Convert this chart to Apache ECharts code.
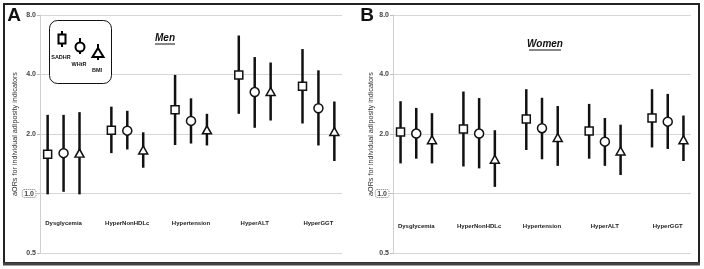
<!DOCTYPE html>
<html>
<head>
<meta charset="utf-8">
<script src="https://cdn.jsdelivr.net/npm/echarts@6/dist/echarts.min.js"></script>
<style>
  html, body { margin: 0; background: #fff; }
  #chart { width: 704px; height: 269px; }
</style>
</head>
<body>
<div id="chart"></div>
<script>
const categories = ['Dysglycemia', 'HyperNonHDLc', 'Hypertension', 'HyperALT', 'HyperGGT'];
const indicators = ['SADHR', 'WHtR', 'BMI'];
const yTicks = [0.5, 1, 2, 4, 8];

// [aOR, lower CI, upper CI] per category
const menSADHR = [[1.58, 0.99, 2.5], [2.09, 1.6, 2.75], [2.65, 1.76, 3.98], [3.98, 2.53, 6.3], [3.49, 2.26, 5.38]];
const menWHtR = [[1.6, 1.02, 2.5], [2.08, 1.67, 2.62], [2.33, 1.79, 3.03], [3.26, 2.15, 4.9], [2.7, 1.75, 4.2]];
const menBMI = [[1.6, 0.99, 2.58], [1.66, 1.35, 2.04], [2.1, 1.75, 2.53], [3.28, 2.34, 4.6], [2.06, 1.46, 2.92]];
const womenSADHR = [[2.05, 1.42, 2.93], [2.12, 1.37, 3.28], [2.38, 1.66, 3.37], [2.07, 1.5, 2.84], [2.41, 1.71, 3.37]];
const womenWHtR = [[2.01, 1.5, 2.71], [2.01, 1.34, 3.04], [2.14, 1.49, 3.05], [1.83, 1.38, 2.41], [2.31, 1.68, 3.19]];
const womenBMI = [[1.87, 1.42, 2.55], [1.49, 1.08, 2.09], [1.92, 1.38, 2.77], [1.64, 1.24, 2.23], [1.87, 1.46, 2.48]];

const FONT = '"Liberation Sans", Arial, sans-serif';
const symbols = ['rect', 'circle', 'triangle'];
const groupOffset = [-0.25, 0, 0.25];
const labelLevel = [0.71, 0.68];
const nameGaps = [21, 18];

const myChart = echarts.init(document.getElementById('chart'), null, { renderer: 'canvas' });

function yAxisFor(gridIndex) {
  return {
    type: 'log',
    logBase: 2,
    gridIndex: gridIndex,
    min: yTicks[0],
    max: yTicks[yTicks.length - 1],
    name: 'aORs for individual adiposity indicators',
    nameLocation: 'middle',
    nameGap: nameGaps[gridIndex],
    nameMoveOverlap: false,
    nameTextStyle: { fontSize: 7.2, color: '#333', fontFamily: FONT },
    axisLine: { show: true, onZero: false, lineStyle: { color: '#cfcfcf' } },
    axisTick: { show: true, length: 3, lineStyle: { color: '#bdbdbd' } },
    splitLine: { show: true, lineStyle: { color: '#d6d6d6' } },
    axisLabel: {
      fontSize: 7,
      fontWeight: 'bold',
      color: '#444',
      fontFamily: FONT,
      margin: 4,
      formatter: v => (v === 1 ? '{box|1.0}' : v.toFixed(1)),
      rich: {
        box: {
          fontSize: 7, fontWeight: 'bold', color: '#444', fontFamily: FONT,
          borderColor: '#777', borderWidth: 1, borderType: 'dotted',
          borderRadius: 2, padding: [1, 2, 0, 2]
        }
      }
    }
  };
}

function xAxisFor(gridIndex) {
  return { type: 'value', gridIndex: gridIndex, min: -0.37, max: 4.37, show: false };
}

function panelSeries(panelIndex, groups) {
  const out = [];
  groups.forEach((rows, k) => {
    out.push({
      type: 'custom',
      name: indicators[k],
      xAxisIndex: panelIndex,
      yAxisIndex: panelIndex,
      data: rows.map((r, i) => [i + groupOffset[k], r[1], r[2]]),
      renderItem: (params, api) => {
        const lo = api.coord([api.value(0), api.value(1)]);
        const hi = api.coord([api.value(0), api.value(2)]);
        return {
          type: 'line',
          shape: { x1: lo[0], y1: lo[1], x2: hi[0], y2: hi[1] },
          style: { stroke: '#111', lineWidth: 2.5 }
        };
      },
      z: 2
    });
    out.push({
      type: 'scatter',
      name: indicators[k],
      xAxisIndex: panelIndex,
      yAxisIndex: panelIndex,
      symbol: symbols[k],
      symbolSize: k === 2 ? [9, 8] : (k === 0 ? 8 : 9),
      itemStyle: { color: '#fff', borderColor: '#111', borderWidth: 1.5, opacity: 1 },
      data: rows.map((r, i) => [i + groupOffset[k], r[0]]),
      z: 3
    });
  });
  out.push({
    type: 'custom',
    xAxisIndex: panelIndex,
    yAxisIndex: panelIndex,
    data: categories.map((c, i) => [i, labelLevel[panelIndex]]),
    renderItem: (params, api) => {
      const p = api.coord([api.value(0), api.value(1)]);
      return {
        type: 'text',
        x: p[0], y: p[1],
        style: {
          text: categories[params.dataIndex],
          fill: '#222', font: 'bold 6px ' + FONT,
          align: 'center', verticalAlign: 'middle'
        }
      };
    },
    z: 1
  });
  return out;
}

function legendIcon(x, yTop, kind, label) {
  const st = { fill: '#fff', stroke: '#000', lineWidth: 2 };
  const els = [
    { type: 'line', z: 20, shape: { x1: x, y1: yTop, x2: x, y2: yTop + 16 }, style: { stroke: '#000', lineWidth: 2 } }
  ];
  const cy = yTop + 8;
  if (kind === 0) {
    els.push({ type: 'rect', z: 21, shape: { x: x - 3.5, y: cy - 4.5, width: 7, height: 9 }, style: st });
  } else if (kind === 1) {
    els.push({ type: 'circle', z: 21, shape: { cx: x, cy: cy + 1, r: 4.5 }, style: st });
  } else {
    els.push({ type: 'polygon', z: 21, shape: { points: [[x, cy - 4], [x + 5.5, cy + 5], [x - 5.5, cy + 5]] }, style: st });
  }
  els.push({
    type: 'text', z: 21, x: x - 1, y: yTop + 26,
    style: { text: label, fill: '#111', font: 'bold 5.5px ' + FONT, align: 'center', verticalAlign: 'middle' }
  });
  return els;
}

const option = {
  animation: false,
  backgroundColor: '#fff',
  grid: [
    { left: 40, right: 362, top: 15, bottom: 16 },
    { left: 393, right: 13, top: 15, bottom: 16 }
  ],
  xAxis: [xAxisFor(0), xAxisFor(1)],
  yAxis: [yAxisFor(0), yAxisFor(1)],
  series: [
    ...panelSeries(0, [menSADHR, menWHtR, menBMI]),
    ...panelSeries(1, [womenSADHR, womenWHtR, womenBMI])
  ],
  graphic: [
    { type: 'rect', z: 10, shape: { x: 4, y: 4, width: 695, height: 259 }, style: { fill: 'none', stroke: '#222', lineWidth: 2 } },
    { type: 'line', z: 10, shape: { x1: 3, y1: 264, x2: 700, y2: 264 }, style: { stroke: '#444', lineWidth: 3 } },
    { type: 'text', z: 10, x: 14, y: 16, style: { text: 'A', font: 'bold 19px ' + FONT, fill: '#111', align: 'center', verticalAlign: 'middle' } },
    { type: 'text', z: 10, x: 367, y: 16, style: { text: 'B', font: 'bold 19px ' + FONT, fill: '#111', align: 'center', verticalAlign: 'middle' } },
    { type: 'text', z: 10, x: 165, y: 38, style: { text: 'Men', font: 'italic bold 10px ' + FONT, fill: '#111', align: 'center', verticalAlign: 'middle' } },
    { type: 'line', z: 10, shape: { x1: 155, y1: 44, x2: 175, y2: 44 }, style: { stroke: '#111', lineWidth: 1 } },
    { type: 'text', z: 10, x: 545, y: 44, style: { text: 'Women', font: 'italic bold 10px ' + FONT, fill: '#111', align: 'center', verticalAlign: 'middle' } },
    { type: 'line', z: 10, shape: { x1: 529, y1: 50, x2: 561, y2: 50 }, style: { stroke: '#111', lineWidth: 1 } },
    { type: 'rect', z: 15, shape: { x: 49.5, y: 20.5, width: 62, height: 63, r: 8 }, style: { fill: '#fff', stroke: '#111', lineWidth: 1 } },
    ...legendIcon(62, 31, 0, 'SADHR'),
    ...legendIcon(80, 38, 1, 'WHtR'),
    ...legendIcon(98, 44, 2, 'BMI')
  ]
};

myChart.setOption(option);
</script>
</body>
</html>
